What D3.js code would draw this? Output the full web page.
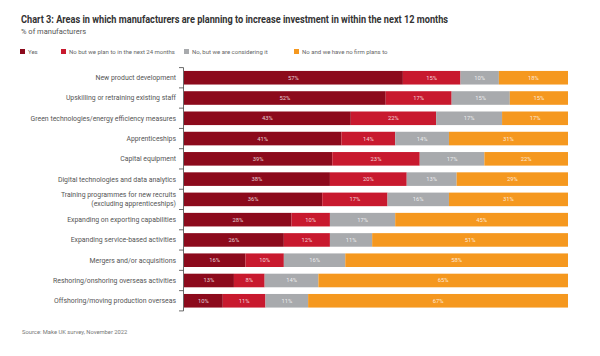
<!DOCTYPE html>
<html><head><meta charset="utf-8">
<script src="https://cdn.jsdelivr.net/npm/d3@7"></script>
<style>
html,body{margin:0;padding:0;background:#fff;}
svg{display:block;font-family:Roboto,"Noto Sans",sans-serif;}
</style></head>
<body>
<svg id="chart" width="600" height="356"></svg>
<script>
const categories = [
  "New product development",
  "Upskilling or retraining existing staff",
  "Green technologies/energy efficiency measures",
  "Apprenticeships",
  "Capital equipment",
  "Digital technologies and data analytics",
  "Training programmes for new recruits|(excluding apprenticeships)",
  "Expanding on exporting capabilities",
  "Expanding service-based activities",
  "Mergers and/or acquisitions",
  "Reshoring/onshoring overseas activities",
  "Offshoring/moving production overseas"
];
const seriesNames = ["Yes", "No but we plan to in the next 24 months", "No, but we are considering it", "No and we have no firm plans to"];
const yesVals        = [57, 52, 43, 41, 39, 38, 36, 28, 26, 16, 13, 10];
const plan24Vals     = [15, 17, 22, 14, 23, 20, 17, 10, 12, 10, 8, 11];
const consideringVals= [10, 15, 17, 14, 17, 13, 16, 17, 11, 16, 14, 11];
const noPlansVals    = [18, 15, 17, 31, 22, 29, 31, 45, 51, 58, 65, 67];
const colors = ["#8c0a1c", "#c8192e", "#a8aaad", "#f5981f"];

const keys = ["yes", "plan24", "considering", "noPlans"];
const rows = categories.map((c, i) => ({
  cat: c, yes: yesVals[i], plan24: plan24Vals[i], considering: consideringVals[i], noPlans: noPlansVals[i]
}));

const svg = d3.select("#chart");

// Title
svg.append("text").attr("x", 21).attr("y", 22.5)
  .attr("font-size", 10.4).attr("font-weight", 700).attr("fill", "#333")
  .attr("textLength", 427).attr("lengthAdjust", "spacingAndGlyphs")
  .text("Chart 3: Areas in which manufacturers are planning to increase investment in within the next 12 months");
svg.append("text").attr("x", 21).attr("y", 34)
  .attr("font-size", 7.5).attr("fill", "#555")
  .text("% of manufacturers");

// Legend
const legendX = [20, 61, 184, 294];
const lg = svg.append("g");
seriesNames.forEach((n, i) => {
  lg.append("rect").attr("x", legendX[i]).attr("y", 49).attr("width", 5).attr("height", 5).attr("fill", colors[i]);
  lg.append("text").attr("x", legendX[i] + 8).attr("y", 54).attr("font-size", 6).attr("fill", "#666").text(n);
});

const x = d3.scaleLinear().domain([0, 1]).range([184, 568]);
const y = d3.scaleBand().domain(categories).range([67.6, 310.9]).paddingInner(0.33).paddingOuter(0.165);

const stack = d3.stack().keys(keys).offset(d3.stackOffsetExpand);
const stacked = stack(rows);

const g = svg.append("g");
stacked.forEach((layer, li) => {
  const lgp = g.append("g");
  lgp.selectAll("rect").data(layer).join("rect")
    .attr("x", d => x(d[0]))
    .attr("y", d => y(d.data.cat))
    .attr("width", d => x(d[1]) - x(d[0]))
    .attr("height", y.bandwidth())
    .attr("fill", colors[li]);
  lgp.selectAll("text").data(layer).join("text")
    .attr("x", d => (x(d[0]) + x(d[1])) / 2)
    .attr("y", d => y(d.data.cat) + y.bandwidth() / 2 + 2)
    .attr("text-anchor", "middle")
    .attr("font-size", 5.8)
    .attr("fill", "#fff").attr("fill-opacity", 0.8)
    .text(d => d.data[layer.key] + "%");
});

// Axis line and ticks between categories
const ax = svg.append("g");
ax.append("line").attr("x1", 183.5).attr("x2", 183.5).attr("y1", y.range()[0]).attr("y2", y.range()[1])
  .attr("stroke", "#444").attr("stroke-width", 0.8);
const boundaries = categories.map(c => y(c) - y.step() * y.paddingInner() / 2).concat([y.range()[1]]);
ax.selectAll("line.tk").data(boundaries).join("line").attr("class", "tk")
  .attr("x1", 179).attr("x2", 183.5).attr("y1", d => d).attr("y2", d => d)
  .attr("stroke", "#444").attr("stroke-width", 0.8);

// Category labels
categories.forEach(c => {
  const parts = c.split("|");
  const cy = y(c) + y.bandwidth() / 2;
  const t = svg.append("text").attr("x", 176).attr("text-anchor", "end")
    .attr("font-size", 6.9).attr("fill", "#555");
  if (parts.length === 1) {
    t.attr("y", cy + 2.4).text(parts[0]);
  } else {
    t.append("tspan").attr("x", 176).attr("y", cy - 2.2).text(parts[0]);
    t.append("tspan").attr("x", 176).attr("y", cy + 6.4).text(parts[1]);
  }
});

svg.append("text").attr("x", 22).attr("y", 334).attr("font-size", 5.8).attr("fill", "#777")
  .text("Source: Make UK survey, November 2022");
</script>
</body></html>
